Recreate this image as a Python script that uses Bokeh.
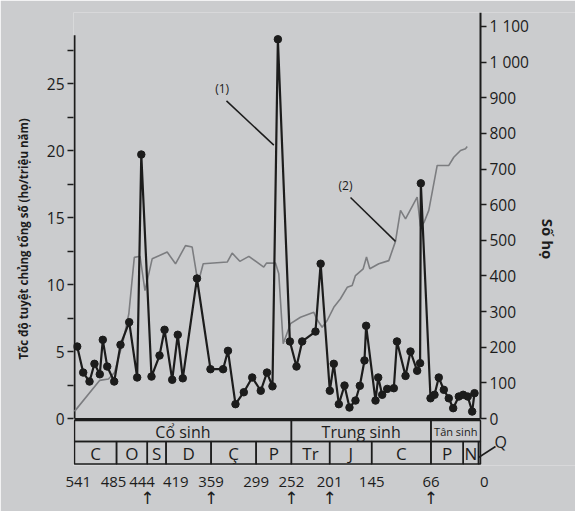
from bokeh.plotting import figure
from bokeh.models import Range1d, LinearAxis, FixedTicker
from bokeh.embed import file_html
from bokeh.resources import INLINE
from bokeh.core.properties import value

# ---------------- data (time in million years before present) ----------------
rate_ma = [537.4, 529.4, 521.0, 514.4, 507.3, 503.3, 497.4, 488.1, 479.7, 468.1,
           457.5, 452.0, 438.4, 427.7, 421.0, 410.8, 403.4, 396.7, 377.8, 359.8,
           343.0, 336.5, 326.5, 315.4, 304.2, 292.8, 284.5, 277.2, 270.0, 254.0,
           245.2, 237.6, 219.9, 213.0, 200.8, 195.5, 188.8, 181.2, 174.6, 166.6,
           160.8, 154.6, 152.4, 139.9, 136.3, 131.0, 124.3, 115.5, 111.3, 99.9,
           93.3, 84.4, 80.5, 79.5, 66.6, 61.3, 55.6, 48.9, 42.3, 36.4,
           28.9, 23.1, 17.0, 11.1, 8.0]
rate_val = [5.37, 3.43, 2.76, 4.08, 3.30, 5.87, 3.88, 2.76, 5.50, 7.19,
            3.06, 19.7, 3.13, 4.70, 6.62, 2.89, 6.25, 3.00, 10.45, 3.68,
            3.68, 5.05, 1.07, 1.96, 3.06, 2.07, 3.43, 2.40, 28.3, 5.75,
            3.88, 5.75, 6.49, 11.55, 2.07, 4.08, 1.07, 2.46, 0.82, 1.34,
            2.44, 4.33, 6.92, 1.34, 3.06, 1.77, 2.21, 2.26, 5.75, 3.18,
            5.00, 3.56, 4.13, 17.55, 1.51, 1.77, 3.06, 2.14, 1.51, 0.77,
            1.64, 1.77, 1.64, 0.52, 1.89]

family_ma = [541.0, 507.3, 495.7, 487.7, 476.0, 468.6, 461.3, 453.7, 447.1, 437.5,
             417.5, 406.4, 393.1, 384.2, 378.4, 375.4, 369.5, 337.5, 330.9, 320.7,
             308.7, 288.8, 285.2, 273.2, 268.8, 262.9, 253.2, 239.9, 222.1, 218.5,
             211.0, 204.3, 195.5, 186.6, 177.6, 171.0, 166.6, 156.3, 151.9, 147.5,
             135.5, 122.2, 113.3, 106.6, 99.9, 84.4, 80.0, 75.3, 68.9, 57.7,
             42.2, 35.6, 26.6, 20.0, 17.7]
family_count = [20, 107, 111, 129, 219, 294, 452, 455, 359, 448,
                467, 434, 485, 481, 406, 387, 434, 439, 464, 441,
                455, 425, 436, 436, 406, 210, 266, 284, 298, 280,
                256, 275, 312, 336, 368, 373, 401, 420, 453, 420,
                434, 443, 497, 584, 560, 621, 539, 550, 584, 710,
                710, 733, 752, 757, 763]

era_names = ["Cổ sinh", "Trung sinh", "Tân sinh"]
era_bounds = [541, 252, 66, 0]
period_names = ["C", "O", "S", "D", "Ç", "P", "Tr", "J", "C", "P", "N", "Q"]
period_bounds = [541, 485, 444, 419, 359, 299, 252, 201, 145, 66, 23, 2.6, 0]
time_ticks = [541, 485, 444, 419, 359, 299, 252, 201, 145, 66, 0]
mass_extinctions = [444, 359, 252, 201, 66]

rate_ticks = [0, 5, 10, 15, 20, 25]
rate_minor_ticks = [2.5, 7.5, 12.5, 17.5, 22.5, 27.5]
family_ticks = [0, 100, 200, 300, 400, 500, 600, 700, 800, 900, 1000, 1100]

# callouts: (1) on the rate axis, (2) on the family axis
callout1 = dict(text="(1)", tx=344.2, ty=24.6, x0=338.5, y0=23.7, x1=275.4, y1=20.4)
callout2 = dict(text="(2)", tx=179.9, ty=654, x0=173.2, y0=620, x1=family_ma[42], y1=family_count[42])

# ---------------- styling / layout (pixels) ----------------
BG = "#cbccce"
INK = "#1c1c1c"
GRAY = "#7c7d80"
FONT = "Open Sans"

W, H = 575, 511
PX_PER_MA = 406 / 541
PX_PER_RATE = 13.4
PX_PER_FAM = 0.3564
FRAME_LEFT, FRAME_RIGHT = 73, W
FRAME_TOP, ZERO_Y, FRAME_BOTTOM = 12, 418, 465
AXIS_X = 74                                             # pixel column of 541 Ma
label_shift_px = {541: 4, 485: -3, 444: -5, 419: 10, 0: 4}   # rightward nudges of crowded labels
q_label_x, q_link_x = -27, -20                          # Ma-equivalent positions right of 0

x_start = 541 + (AXIS_X - FRAME_LEFT) / PX_PER_MA
x_end = 541 - (FRAME_RIGHT - AXIS_X) / PX_PER_MA

p = figure(width=W, height=H, output_backend="svg", toolbar_location=None,
           x_range=Range1d(x_start, x_end),
           y_range=Range1d(FRAME_BOTTOM, FRAME_TOP),
           x_axis_location=None, y_axis_location=None,
           min_border_left=FRAME_LEFT, min_border_right=W - FRAME_RIGHT,
           min_border_top=FRAME_TOP, min_border_bottom=H - FRAME_BOTTOM)
p.background_fill_color = BG
p.border_fill_color = BG
p.outline_line_color = None
p.xgrid.visible = False
p.ygrid.visible = False

fam_end = (ZERO_Y - FRAME_TOP) / PX_PER_FAM
p.extra_y_ranges = {
    "rate": Range1d(-(FRAME_BOTTOM - ZERO_Y) / PX_PER_RATE, (ZERO_Y - FRAME_TOP) / PX_PER_RATE),
    "fam": Range1d(-(FRAME_BOTTOM - ZERO_Y) / PX_PER_FAM, fam_end),
}


def style_axis(ax, size="15.5px"):
    ax.axis_line_color = None
    ax.major_tick_in = 0
    ax.major_tick_out = 6
    ax.minor_tick_in = 0
    ax.minor_tick_out = 6
    ax.major_tick_line_width = 1.5
    ax.minor_tick_line_width = 1.5
    ax.major_tick_line_color = INK
    ax.minor_tick_line_color = INK
    ax.major_label_text_font = FONT
    ax.major_label_text_font_size = size
    ax.major_label_text_color = INK
    ax.major_label_standoff = 3
    ax.axis_label_text_font = FONT
    ax.axis_label_text_font_style = "bold"
    ax.axis_label_text_color = INK


left = LinearAxis(y_range_name="rate",
                  ticker=FixedTicker(ticks=rate_ticks, minor_ticks=rate_minor_ticks),
                  axis_label="Tốc độ tuyệt chủng tổng số (họ/triệu năm)")
style_axis(left)
left.axis_label_text_font_size = "11.5px"
left.axis_label_standoff = 13
p.add_layout(left, "left")

right = LinearAxis(y_range_name="fam", ticker=FixedTicker(ticks=family_ticks),
                   axis_label="Số họ", fixed_location=0,
                   major_label_overrides={1000: "1 000", 1100: "1 100"})
style_axis(right)
right.axis_label_text_font_size = "15px"
right.axis_label_standoff = 6
p.add_layout(right, "right")

# time labels under the time scale
label_pos = [round(t - label_shift_px.get(t, 0) / PX_PER_MA) for t in time_ticks]
bottom = LinearAxis(ticker=FixedTicker(ticks=label_pos),
                    major_label_overrides={pos: str(t) for pos, t in zip(label_pos, time_ticks)})
bottom.axis_line_color = None
bottom.major_tick_line_color = None
bottom.major_tick_in = 0
bottom.major_tick_out = 0
bottom.major_label_standoff = 11
bottom.major_label_text_font = FONT
bottom.major_label_text_font_size = "15px"
bottom.major_label_text_color = INK
p.add_layout(bottom, "below")

# arrows marking the five mass extinctions
arrows = LinearAxis(ticker=FixedTicker(ticks=mass_extinctions),
                    major_label_overrides={t: "↑" for t in mass_extinctions})
arrows.axis_line_color = None
arrows.major_tick_line_color = None
arrows.major_tick_in = 0
arrows.major_tick_out = 0
arrows.major_label_standoff = -2
arrows.major_label_text_font = "DejaVu Sans"
arrows.major_label_text_font_size = "17px"
arrows.major_label_text_color = INK
p.add_layout(arrows, "below")

# axis lines
p.segment(x0=[541], y0=[0], x1=[541], y1=[28.6], y_range_name="rate", line_color=INK, line_width=2)
p.segment(x0=[0], y0=[0], x1=[0], y1=[fam_end], y_range_name="fam", line_color=INK, line_width=2)

# series
p.line(family_ma, family_count, y_range_name="fam", line_color=GRAY, line_width=1.6)
p.line(rate_ma, rate_val, y_range_name="rate", line_color=INK, line_width=2.2)
p.scatter(rate_ma, rate_val, y_range_name="rate", size=7.5, color=INK)

# callouts
for c, rng in ((callout1, "rate"), (callout2, "fam")):
    p.segment(x0=[c["x0"]], y0=[c["y0"]], x1=[c["x1"]], y1=[c["y1"]], y_range_name=rng,
              line_color=INK, line_width=1.5)
    p.text(x=[c["tx"]], y=[c["ty"]], text=[c["text"]], y_range_name=rng,
           text_font=value(FONT), text_font_size="12px", text_color=INK,
           text_align="center", text_baseline="middle")

# ---------------- geological time scale (y in pixel rows) ----------------
p.segment(x0=[541], y0=[419], x1=[0], y1=[419], line_color=INK, line_width=3)
era_mid = [(a + b) / 2 for a, b in zip(era_bounds[:-1], era_bounds[1:])]
p.quad(left=era_bounds[:-1], right=era_bounds[1:], top=420, bottom=441,
       fill_color=None, line_color=INK, line_width=1.5)
p.text(x=era_mid[:2], y=[431, 431], text=era_names[:2],
       text_font=value(FONT), text_font_size="16px", text_color=INK,
       text_align="center", text_baseline="middle")
p.text(x=era_mid[2:], y=[431], text=era_names[2:],
       text_font=value(FONT), text_font_size="11px", text_color=INK,
       text_align="center", text_baseline="middle")

per_mid = [(a + b) / 2 for a, b in zip(period_bounds[:-1], period_bounds[1:])]
p.quad(left=period_bounds[:-1], right=period_bounds[1:], top=441, bottom=463.5,
       fill_color=None, line_color=INK, line_width=1.5)
p.text(x=per_mid[:-1], y=[452.5] * (len(period_names) - 1), text=period_names[:-1],
       text_font=value(FONT), text_font_size="17px", text_color=INK,
       text_align="center", text_baseline="middle")

# Quaternary callout
p.segment(x0=[period_bounds[-2]], y0=[457], x1=[q_link_x], y1=[446], line_color=INK, line_width=1.5)
p.text(x=[q_label_x], y=[441], text=[period_names[-1]],
       text_font=value(FONT), text_font_size="16px", text_color=INK,
       text_align="center", text_baseline="middle")

open("out.html", "w").write(file_html(p, INLINE))
